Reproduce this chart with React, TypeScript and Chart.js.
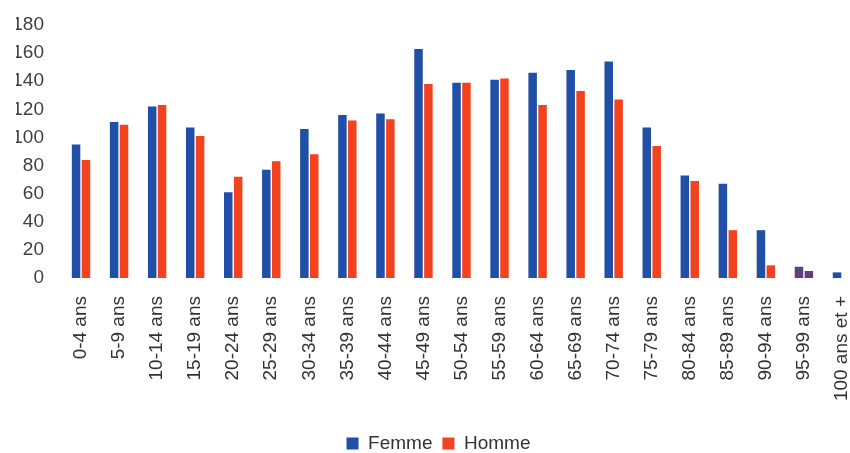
import React, { useEffect, useRef } from "react";
import { Chart, registerables } from "chart.js";

Chart.register(...registerables);

const categories = [
  "0-4 ans", "5-9 ans", "10-14 ans", "15-19 ans", "20-24 ans", "25-29 ans",
  "30-34 ans", "35-39 ans", "40-44 ans", "45-49 ans", "50-54 ans", "55-59 ans",
  "60-64 ans", "65-69 ans", "70-74 ans", "75-79 ans", "80-84 ans", "85-89 ans",
  "90-94 ans", "95-99 ans", "100 ans et +",
];

const femme = [95, 111, 122, 107, 61, 77, 106, 116, 117, 163, 139, 141, 146, 148, 154, 107, 73, 67, 34, 8, 4];
const homme = [84, 109, 123, 101, 72, 83, 88, 112, 113, 138, 139, 142, 123, 133, 127, 94, 69, 34, 9, 5, 0];

const yTicks = [0, 20, 40, 60, 80, 100, 120, 140, 160, 180];

const BLUE = "#1F4FA6";
const RED = "#F2421E";
const PURPLE = "#5E3F7A";

export default function App() {
  const ref = useRef<HTMLCanvasElement | null>(null);

  useEffect(() => {
    if (!ref.current) return;
    const font = "'Liberation Sans', Arial, sans-serif";
    const femmeColors = categories.map((c) => (c === "95-99 ans" ? PURPLE : BLUE));
    const hommeColors = categories.map((c) => (c === "95-99 ans" ? PURPLE : RED));
    const chart = new Chart(ref.current, {
      type: "bar",
      data: {
        labels: categories,
        datasets: [
          {
            label: "Femme",
            data: femme,
            backgroundColor: femmeColors,
            borderWidth: 0,
            categoryPercentage: 0.52,
            barPercentage: 0.86,
          },
          {
            label: "Homme",
            data: homme,
            backgroundColor: hommeColors,
            borderWidth: 0,
            categoryPercentage: 0.52,
            barPercentage: 0.86,
          },
        ],
      },
      options: {
        animation: false,
        responsive: false,
        maintainAspectRatio: false,
        layout: { padding: { left: 16, right: 43, top: 25, bottom: 0 } },
        plugins: {
          tooltip: { enabled: false },
          legend: {
            position: "bottom",
            labels: {
              boxWidth: 12,
              boxHeight: 12,
              padding: 10,
              color: "#333333",
              font: { family: font, size: 19 },
              generateLabels: (ch: any) =>
                ch.data.datasets.map((ds: any, i: number) => ({
                  text: ds.label,
                  fillStyle: i === 0 ? BLUE : RED,
                  strokeStyle: i === 0 ? BLUE : RED,
                  lineWidth: 0,
                  datasetIndex: i,
                  fontColor: "#333333",
                })),
            },
          },
        },
        scales: {
          x: {
            grid: { display: false },
            border: { display: false },
            afterFit: (scale: any) => {
              scale.height = 146;
            },
            ticks: {
              minRotation: 90,
              maxRotation: 90,
              autoSkip: false,
              padding: 10,
              color: "#333333",
              font: { family: font, size: 19 },
            },
          },
          y: {
            min: 0,
            max: 180,
            grid: { display: false },
            border: { display: false },
            afterFit: (scale: any) => {
              scale.width = 46;
            },
            afterBuildTicks: (scale: any) => {
              scale.ticks = yTicks.map((v) => ({ value: v }));
            },
            ticks: {
              padding: 10,
              color: "#404040",
              font: { family: font, size: 19 },
            },
          },
        },
      },
    });
    return () => chart.destroy();
  }, []);

  return (
    <div
      style={{
        position: "absolute",
        left: 0,
        top: 0,
        width: 850,
        height: 453,
        overflow: "hidden",
        background: "#ffffff",
      }}
    >
      <canvas ref={ref} width={904} height={463} style={{ display: "block" }} />
    </div>
  );
}
